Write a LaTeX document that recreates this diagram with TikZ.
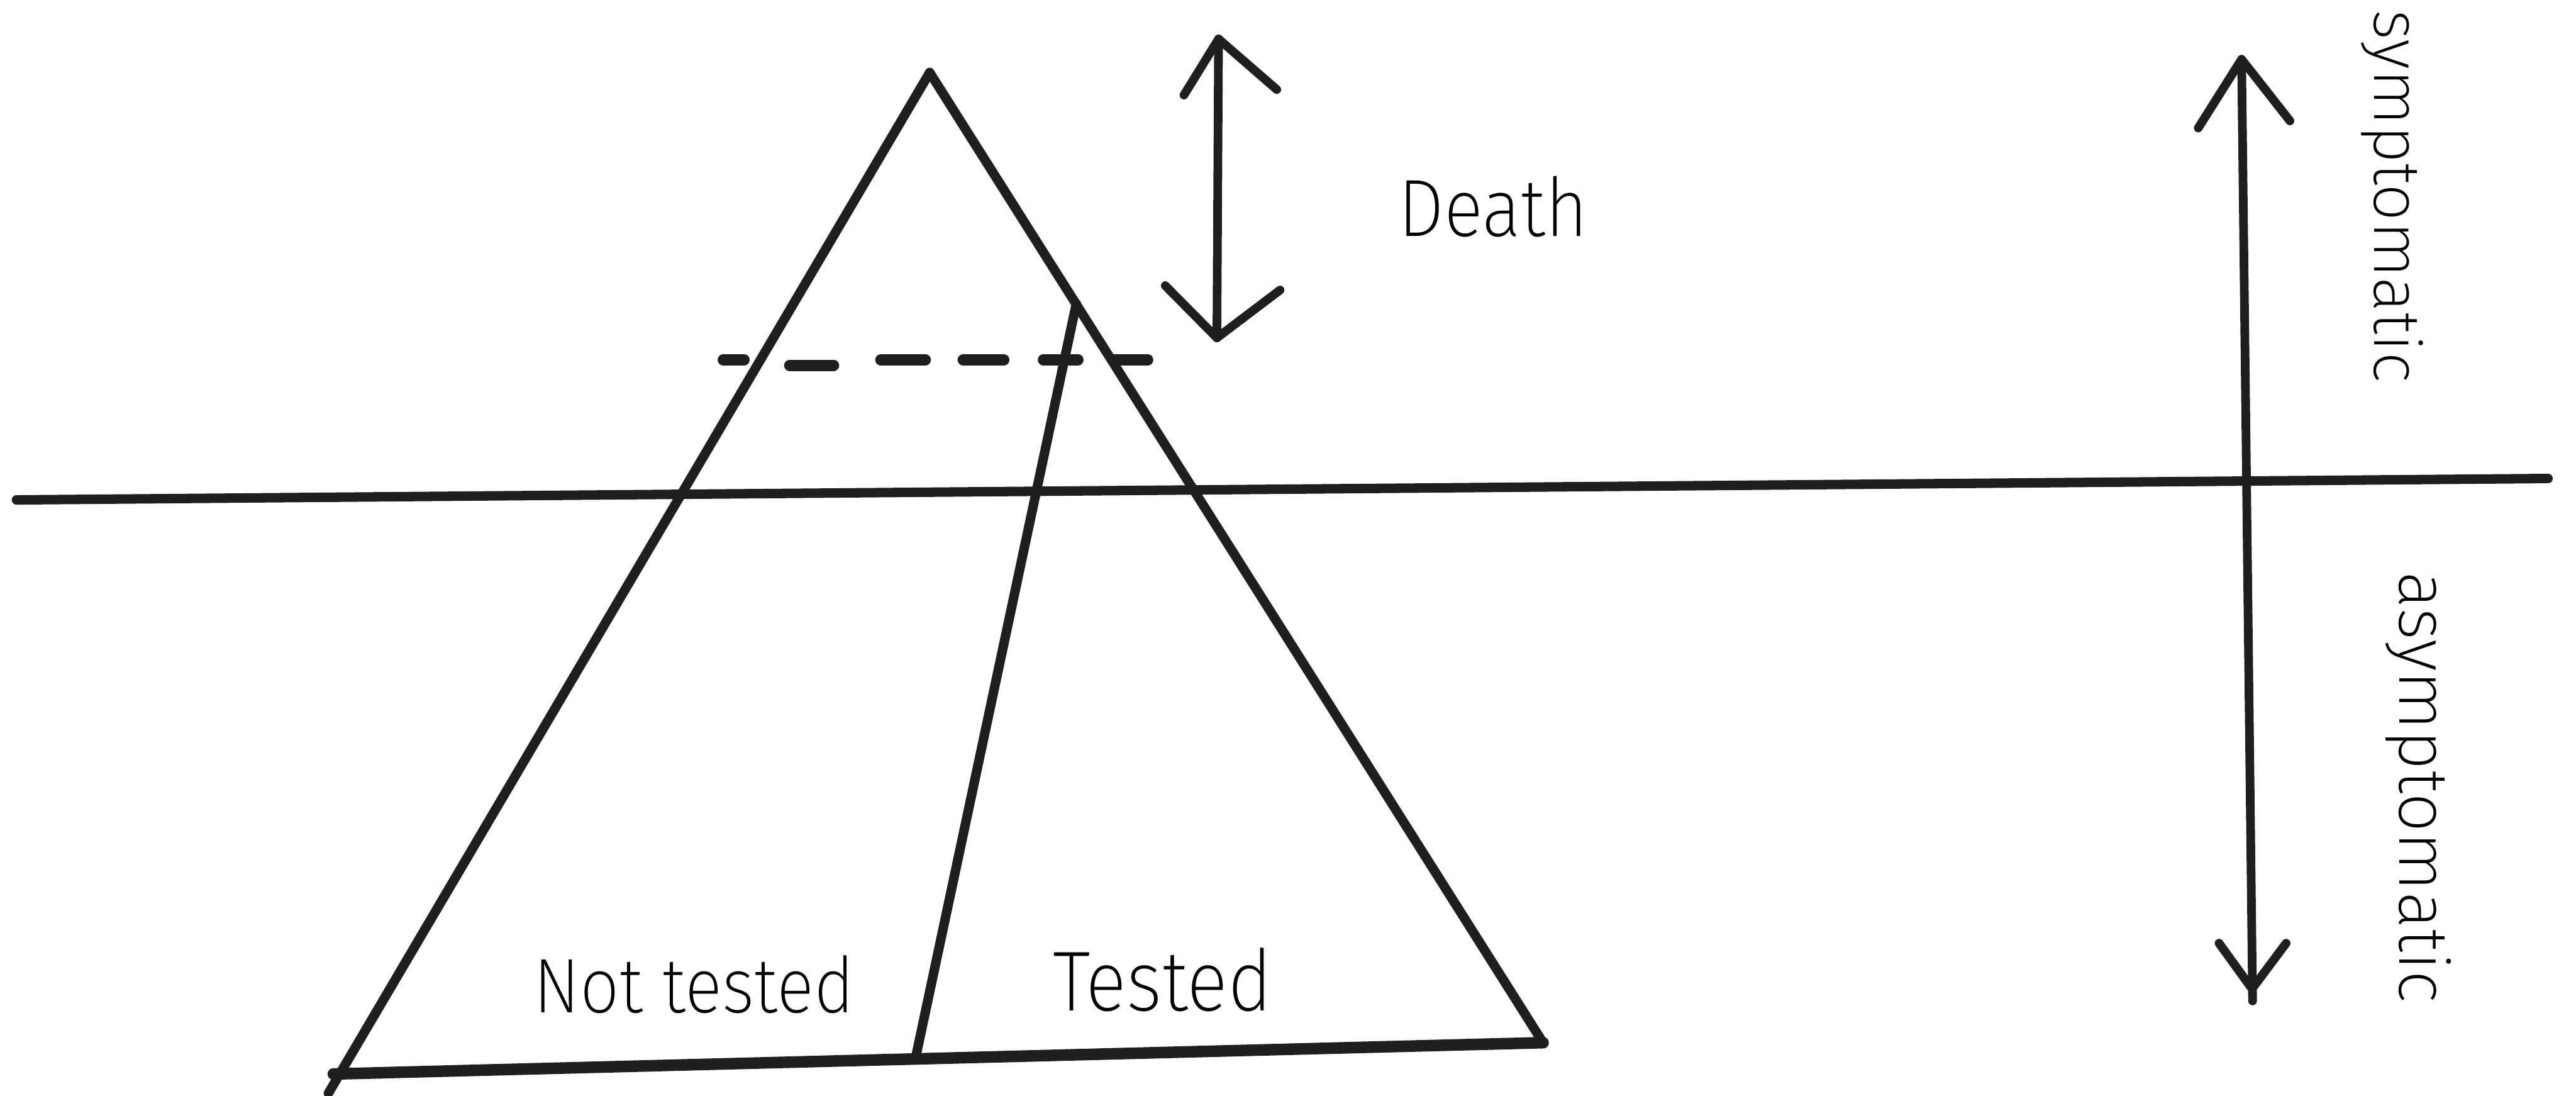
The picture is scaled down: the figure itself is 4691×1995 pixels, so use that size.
\documentclass[tikz,border=0pt]{standalone}
\usepackage{fontspec}
\setmainfont{Fira Sans ExtraLight}
\begin{document}
\begin{tikzpicture}[x=0.01cm,y=-0.01cm,line cap=round,line join=round,
  mainline/.style={line width=4.9pt,draw=black!88},
  arrowline/.style={line width=4.5pt,draw=black!88},
  dashseg/.style={line width=5.8pt,draw=black!88},
  lbl/.style={inner sep=0pt,anchor=base,font=\fontsize{42}{42}\selectfont,xscale=0.9},
  sidelbl/.style={inner sep=0pt,anchor=base,rotate=-90,font=\fontsize{36}{36}\selectfont}]
\useasboundingbox (0,0) rectangle (4691,1995);
% triangle
\coordinate (apex) at (1693,132);
\coordinate (blx) at (598,1990);
\coordinate (bl) at (607,1955);
\coordinate (br) at (2810,1898);
\coordinate (itop) at (1960,553);
\coordinate (ibot) at (1667,1927);
\coordinate (hl) at (30,910);
\coordinate (hr) at (4640,871);
\draw[mainline] (apex) -- (blx);
\draw[mainline] (apex) -- (br);
\draw[mainline,line width=6pt] (bl) -- (br);
\draw[mainline] (itop) -- (ibot);
\draw[mainline] (hl) -- (hr);
% dashed line
\foreach \xa/\xb/\yy [count=\i] in {1317/1355/655,1438/1518/665,1604/1685/655,1754/1828/655,1900/1963/655,2029/2090/655}{
  \coordinate (d\i a) at (\xa,\yy);
  \coordinate (d\i b) at (\xb,\yy);
  \draw[dashseg] (d\i a) -- (d\i b);
}
% death arrow
\coordinate (dtop) at (2219,71);
\coordinate (dbot) at (2216,615);
\coordinate (dtl) at (2156,173);
\coordinate (dtr) at (2325,163);
\coordinate (dbl) at (2122,520);
\coordinate (dbr) at (2331,528);
\draw[arrowline] (dtop) -- (dbot);
\draw[arrowline] (dtl) -- (dtop) -- (dtr);
\draw[arrowline] (dbl) -- (dbot) -- (dbr);
% right arrow
\coordinate (rtop) at (4082,108);
\coordinate (rbot) at (4102,1822);
\coordinate (rtip) at (4101,1800);
\coordinate (rtl) at (4003,233);
\coordinate (rtr) at (4170,220);
\coordinate (rbl) at (4041,1717);
\coordinate (rbr) at (4163,1717);
\draw[arrowline] (rtop) -- (rbot);
\draw[arrowline] (rtl) -- (rtop) -- (rtr);
\draw[arrowline] (rbl) -- (rtip) -- (rbr);
% labels
\node[lbl] (death) at (2719,430) {Death};
\node[lbl,font=\fontsize{40}{40}\selectfont] (nottested) at (1264,1843) {Not tested};
\node[lbl,font=\fontsize{44}{44}\selectfont] (tested) at (2117,1840) {Tested};
\node[sidelbl,font=\fontsize{34}{34}\selectfont] (sympt) at (4324,357) {symptomatic};
\node[sidelbl] (asympt) at (4370,1433) {asymptomatic};
\end{tikzpicture}
\end{document}
